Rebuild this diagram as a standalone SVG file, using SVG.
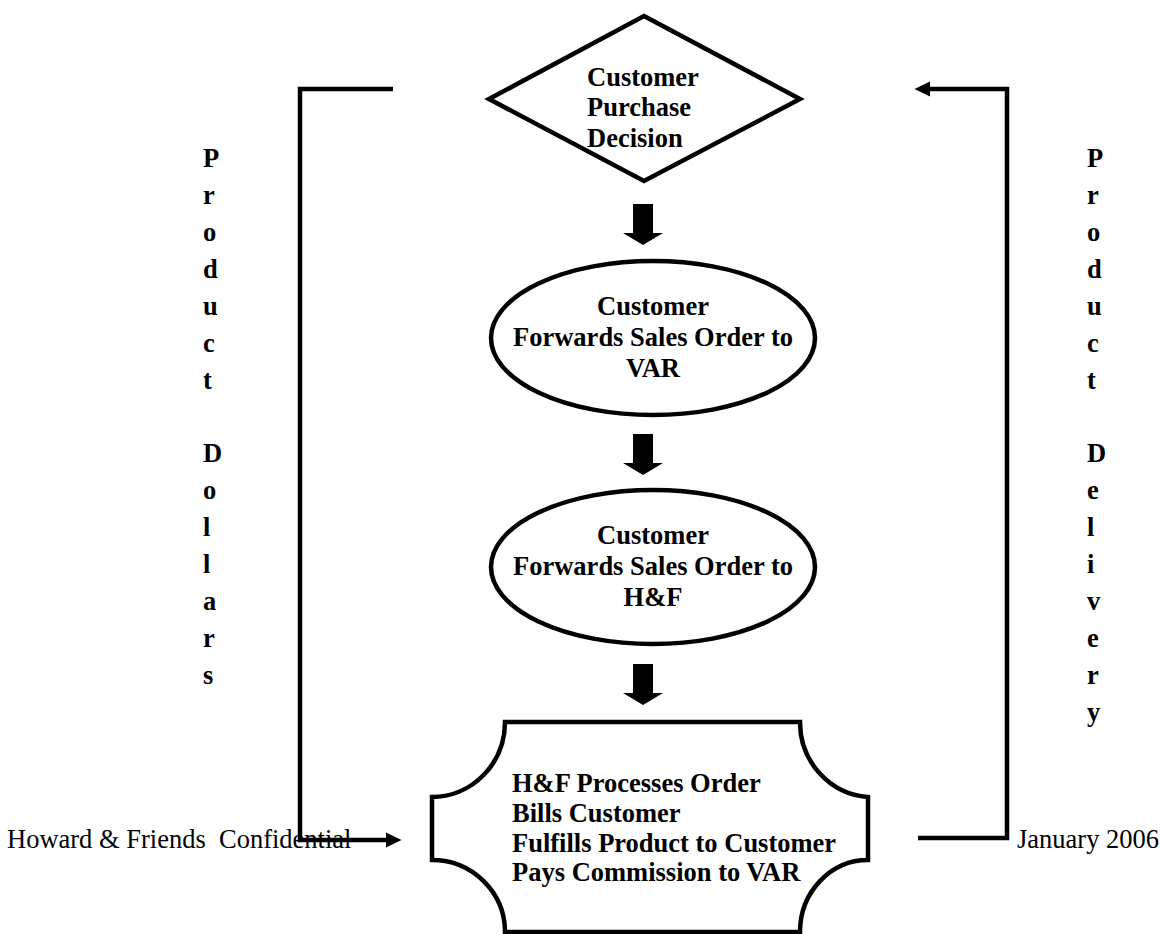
<svg xmlns="http://www.w3.org/2000/svg" width="1160" height="934" viewBox="0 0 1160 934">
<style>
.shape{fill:#fff;stroke:#000;stroke-width:4.5;}
.bt{font-family:"Liberation Serif","Times New Roman",serif;font-weight:bold;font-size:26.5px;fill:#000;}
.rt{font-family:"Liberation Serif","Times New Roman",serif;font-size:26.5px;fill:#000;}
.ln{fill:none;stroke:#000;stroke-width:4.5;}
.blk{fill:#000;stroke:none;}
</style>
<defs>
<marker id="ah" markerWidth="4" markerHeight="4" refX="0.5" refY="2" orient="auto" markerUnits="strokeWidth">
<path d="M0,0.3 L3.5,2 L0,3.7 z" fill="#000"/>
</marker>
<polygon id="down" points="-10,0 10,0 10,29 20,29 0,41 -20,29 -10,29"/>
</defs>

<g id="connectors">
<use href="#down" x="643" y="204" class="blk"/>
<use href="#down" x="643" y="434" class="blk"/>
<use href="#down" x="643" y="664" class="blk"/>
<polyline class="ln" points="393,89 300,89 300,840 388,840" marker-end="url(#ah)"/>
<polyline class="ln" points="918,838 1007,838 1007,89 928,89" marker-end="url(#ah)"/>
</g>

<g id="decision">
<polygon class="shape" points="644,16 800,99 644,181 489,99"/>
<text class="bt" x="587" y="86">Customer</text>
<text class="bt" x="587" y="116">Purchase</text>
<text class="bt" x="587" y="147">Decision</text>
</g>

<g id="var-order">
<ellipse class="shape" cx="653" cy="338" rx="162" ry="77"/>
<text class="bt" x="653" y="315" text-anchor="middle">Customer</text>
<text class="bt" x="653" y="346" text-anchor="middle">Forwards Sales Order to</text>
<text class="bt" x="653" y="377" text-anchor="middle">VAR</text>
</g>

<g id="hf-order">
<ellipse class="shape" cx="653" cy="567" rx="162" ry="77"/>
<text class="bt" x="653" y="544" text-anchor="middle">Customer</text>
<text class="bt" x="653" y="575" text-anchor="middle">Forwards Sales Order to</text>
<text class="bt" x="653" y="606" text-anchor="middle">H&amp;F</text>
</g>

<g id="hf-process">
<path class="shape" d="M505,722 L800,722 A73,75 0 0 0 868,797 L868,860 A68,72 0 0 0 800,932 L505,932 A73,72 0 0 0 432,860 L432,797 A73,75 0 0 0 505,722 Z"/>
<text class="bt" x="512" y="792">H&amp;F Processes Order</text>
<text class="bt" x="512" y="822">Bills Customer</text>
<text class="bt" x="512" y="852">Fulfills Product to Customer</text>
<text class="bt" x="512" y="881">Pays Commission to VAR</text>
</g>

<g id="label-dollars">
<text class="bt" x="203" y="167">P</text>
<text class="bt" x="203" y="204">r</text>
<text class="bt" x="203" y="241">o</text>
<text class="bt" x="203" y="278">d</text>
<text class="bt" x="203" y="315">u</text>
<text class="bt" x="203" y="352">c</text>
<text class="bt" x="203" y="389">t</text>
<text class="bt" x="203" y="462">D</text>
<text class="bt" x="203" y="499">o</text>
<text class="bt" x="203" y="536">l</text>
<text class="bt" x="203" y="573">l</text>
<text class="bt" x="203" y="610">a</text>
<text class="bt" x="203" y="647">r</text>
<text class="bt" x="203" y="684">s</text>
</g>

<g id="label-delivery">
<text class="bt" x="1087" y="167">P</text>
<text class="bt" x="1087" y="204">r</text>
<text class="bt" x="1087" y="241">o</text>
<text class="bt" x="1087" y="278">d</text>
<text class="bt" x="1087" y="315">u</text>
<text class="bt" x="1087" y="352">c</text>
<text class="bt" x="1087" y="389">t</text>
<text class="bt" x="1087" y="462">D</text>
<text class="bt" x="1087" y="499">e</text>
<text class="bt" x="1087" y="536">l</text>
<text class="bt" x="1087" y="573">i</text>
<text class="bt" x="1087" y="610">v</text>
<text class="bt" x="1087" y="647">e</text>
<text class="bt" x="1087" y="684">r</text>
<text class="bt" x="1087" y="721">y</text>
</g>

<g id="footer">
<text class="rt" x="7" y="848" xml:space="preserve">Howard &amp; Friends  Confidential</text>
<text class="rt" x="1017" y="848">January 2006</text>
</g>
</svg>
